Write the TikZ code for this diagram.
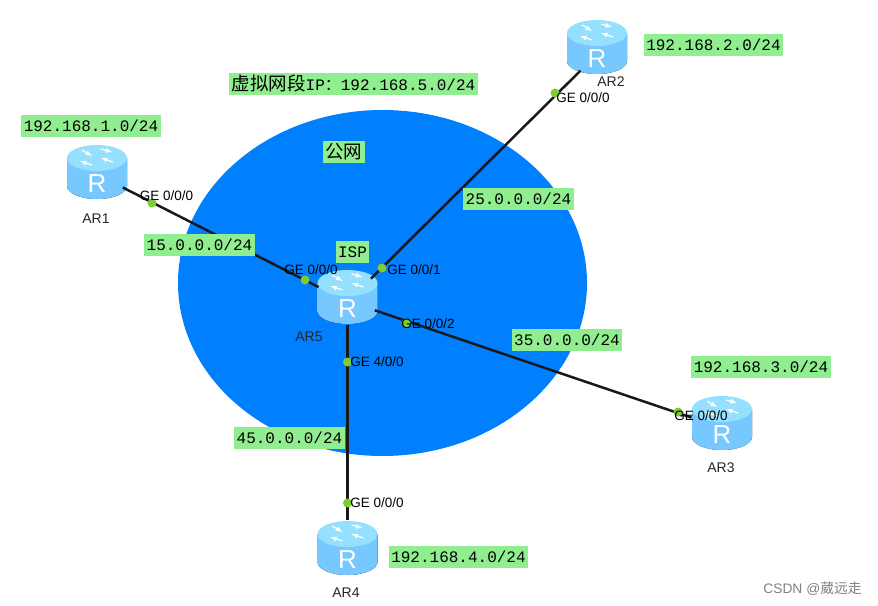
\documentclass[tikz,border=0pt]{standalone}
\usepackage{fontspec}
\setmainfont{Liberation Sans}
\setmonofont{Liberation Mono}
\newfontfamily\cjk{Noto Sans CJK SC}
\usetikzlibrary{calc, shapes.geometric, positioning}

\definecolor{netblue}{RGB}{0,127,255}
\definecolor{labelgreen}{RGB}{144,238,144}
\definecolor{portgreen}{RGB}{124,205,50}
\definecolor{routerside}{RGB}{118,200,255}
\definecolor{routermid}{RGB}{186,232,255}
\definecolor{routertop}{RGB}{150,224,255}

\tikzset{
    netlabel/.style={fill=labelgreen, inner xsep=2.5pt, inner ysep=0pt, minimum height=22pt, font=\fontsize{16}{16}\ttfamily},
    cjklabel/.style={font=\fontsize{18.5}{18.5}\cjk},
    routernode/.style={ellipse, minimum width=60pt, minimum height=54pt, inner sep=0pt, outer sep=1pt},
    link/.style={line width=2.5pt, black!90},
    portdot/.style={circle, fill=portgreen, inner sep=0pt, minimum size=9pt},
    portlabel/.style={font=\fontsize{13.5}{13.5}\selectfont, inner sep=0pt},
    routerlabel/.style={font=\fontsize{14}{14}\selectfont, inner sep=0pt, text=black!85},
    toparrow/.style={->, >=latex, white, line width=1.2pt}
}

% Bieu tuong router: hinh tru co chu R
\newcommand{\routericon}[3]{
    \begin{scope}[shift={(#2,#3)}]
        \fill[left color=routerside, middle color=routermid, right color=routerside]
            (-30,-14) -- (-30,14) arc[start angle=180, end angle=0, x radius=30, y radius=13] -- (30,-14) -- cycle;
        \fill[routertop] (0,-14) ellipse[x radius=30, y radius=13];
        \draw[toparrow] (-15,-22) -- (-5,-16);
        \draw[toparrow] (4,-23) -- (15,-20);
        \draw[toparrow] (16,-10) -- (4,-14);
        \draw[toparrow] (-5,-7) -- (-17,-11);
        \node[white, font=\fontsize{26}{26}\selectfont, inner sep=0pt] at (0,12) {R};
    \end{scope}
    \node[routernode] (#1) at (#2,#3) {};
}

\begin{document}
\begin{tikzpicture}[x=1pt, y=-1pt]
    \useasboundingbox (0,0) rectangle (878,605);

    % 1. Vung cong cong mau xanh
    \fill[netblue] (382.5,283) ellipse[x radius=204.5, y radius=173];

    % 2. Cac router
    \routericon{AR1}{97}{172}
    \routericon{AR2}{597}{47}
    \routericon{AR3}{722}{423}
    \routericon{AR4}{347.5}{548}
    \routericon{AR5}{347.5}{297}

    % 3. Cac duong noi
    \draw[link] (AR1.329) -- (AR5.161);
    \draw[link] (AR2.235) -- (AR5.38);
    \draw[link] (AR3.170) -- (AR5.334);
    \draw[link] (AR4) -- (AR5);

    % 4. Cac diem cong
    \node[portdot] (p1) at (152,203) {};
    \node[portdot] (p2) at (555,93) {};
    \node[portdot] (p3) at (678,412) {};
    \node[portdot] (p4) at (347.5,503) {};
    \node[portdot] (p51) at (305,280) {};
    \node[portdot] (p52) at (382,268) {};
    \node[portdot] (p53) at (406,323) {};
    \node[portdot] (p54) at (347.5,362) {};

    % 5. Nhan cong
    \node[portlabel] at (166.5,196) {GE 0/0/0};
    \node[portlabel] at (583,98) {GE 0/0/0};
    \node[portlabel] at (701,416) {GE 0/0/0};
    \node[portlabel] at (377,503) {GE 0/0/0};
    \node[portlabel] at (311,270) {GE 0/0/0};
    \node[portlabel] at (414,270) {GE 0/0/1};
    \node[portlabel] at (428,324) {GE 0/0/2};
    \node[portlabel] at (377,362) {GE 4/0/0};

    % 6. Ten router
    \node[routerlabel] at (96,219) {AR1};
    \node[routerlabel] at (611,82) {AR2};
    \node[routerlabel] at (721,468) {AR3};
    \node[routerlabel] at (346,593) {AR4};
    \node[routerlabel] at (309,337) {AR5};

    % 7. Nhan mang mau xanh la
    \node[netlabel] at (91,126) {192.168.1.0/24};
    \node[netlabel] at (713.5,45) {192.168.2.0/24};
    \node[netlabel] at (761,367) {192.168.3.0/24};
    \node[netlabel] at (458.5,557) {192.168.4.0/24};
    \node[netlabel] at (353.5,83.5) {{\fontsize{18.5}{18.5}\cjk 虚拟网段}IP{\cjk ：}192.168.5.0/24};
    \node[netlabel, cjklabel] at (343.5,152) {公网};
    \node[netlabel] at (352.5,252) {ISP};
    \node[netlabel] at (199.5,245) {15.0.0.0/24};
    \node[netlabel] at (518.5,199) {25.0.0.0/24};
    \node[netlabel] at (567,340) {35.0.0.0/24};
    \node[netlabel] at (289.5,438) {45.0.0.0/24};

    % 8. Chu ky goc anh
    \node[font=\fontsize{13.8}{13.8}\selectfont, text=black!50, inner sep=0pt] at (812.5,589) {CSDN @{\cjk 葳远走}};
\end{tikzpicture}
\end{document}
